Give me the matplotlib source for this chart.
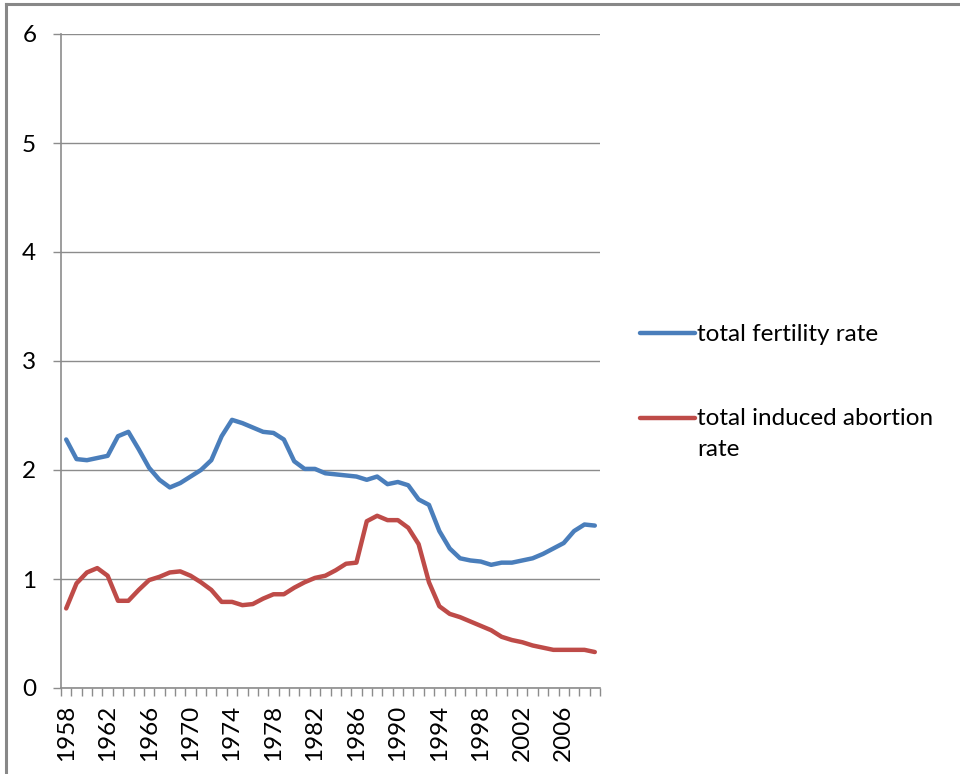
import numpy as np
import matplotlib
matplotlib.use("Agg")
import matplotlib.pyplot as plt
from matplotlib.lines import Line2D
from matplotlib.legend_handler import HandlerLine2D

plt.rcParams["font.family"] = ["Lato", "DejaVu Sans"]

# Annual series, 1958-2009
years = list(range(1958, 2010))
fertility = [2.28, 2.10, 2.09, 2.11, 2.13, 2.31, 2.35, 2.19, 2.02, 1.91,
             1.84, 1.88, 1.94, 2.00, 2.09, 2.31, 2.46, 2.43, 2.39, 2.35,
             2.34, 2.28, 2.08, 2.01, 2.01, 1.97, 1.96, 1.95, 1.94, 1.91,
             1.94, 1.87, 1.89, 1.86, 1.73, 1.68, 1.44, 1.28, 1.19, 1.17,
             1.16, 1.13, 1.15, 1.15, 1.17, 1.19, 1.23, 1.28, 1.33, 1.44,
             1.50, 1.49]
abortion = [0.73, 0.96, 1.06, 1.10, 1.03, 0.80, 0.80, 0.90, 0.99, 1.02,
            1.06, 1.07, 1.03, 0.97, 0.90, 0.79, 0.79, 0.76, 0.77, 0.82,
            0.86, 0.86, 0.92, 0.97, 1.01, 1.03, 1.08, 1.14, 1.15, 1.53,
            1.58, 1.54, 1.54, 1.47, 1.32, 0.97, 0.75, 0.68, 0.65, 0.61,
            0.57, 0.53, 0.47, 0.44, 0.42, 0.39, 0.37, 0.35, 0.35, 0.35,
            0.35, 0.33]
labels = ["total fertility rate", "total induced abortion\nrate"]
year_labels = list(range(1958, 2007, 4))
y_ticks = [0, 1, 2, 3, 4, 5, 6]

BLUE = "#4A7EBB"
RED = "#BE4B48"
GRID = "#8c8c8c"
FS = 17.5

W, H = 960, 774
fig = plt.figure(figsize=(W / 100, H / 100), dpi=100)
ax = fig.add_axes([61 / W, 1 - 688 / H, (600 - 61) / W, (688 - 34) / H])

lw = 3.2
l1, = ax.plot(years, fertility, color=BLUE, lw=lw,
              solid_joinstyle="round", solid_capstyle="round")
l2, = ax.plot(years, abortion, color=RED, lw=lw,
              solid_joinstyle="round", solid_capstyle="round")

ax.set_xlim(years[0] - 0.5, years[-1] + 0.5)
ax.set_ylim(0, 6)

# horizontal gridlines and axes styling
ax.set_yticks(y_ticks)
ax.yaxis.grid(True, color=GRID, lw=1.0)
ax.set_axisbelow(True)
for s in ("top", "right"):
    ax.spines[s].set_visible(False)
for s in ("left", "bottom"):
    ax.spines[s].set_color(GRID)
    ax.spines[s].set_linewidth(1.2)
ax.tick_params(axis="y", direction="out", length=5.8, width=1.0,
               color=GRID, pad=12, labelsize=FS)

# category boundaries as tick marks, year labels between them
ax.set_xticks(np.arange(years[0] - 0.5, years[-1] + 1.0, 1.0))
ax.set_xticklabels([])
ax.set_xticks(year_labels, minor=True)
ax.set_xticklabels([str(y) for y in year_labels], minor=True, rotation=90,
                   va="top", ha="center")
ax.tick_params(axis="x", which="major", direction="out", length=5.8,
               width=1.0, color=GRID)
ax.tick_params(axis="x", which="minor", length=0, pad=12, labelsize=FS)


class FirstLineHandler(HandlerLine2D):
    """Legend line aligned with the first line of a wrapped label."""

    def __init__(self, lift=0.0, **kw):
        super().__init__(**kw)
        self.lift = lift

    def create_artists(self, legend, orig_handle, xdescent, ydescent,
                       width, height, fontsize, trans):
        arts = super().create_artists(legend, orig_handle, xdescent,
                                      ydescent, width, height, fontsize,
                                      trans)
        for a in arts:
            if isinstance(a, Line2D):
                a.set_ydata(np.asarray(a.get_ydata(), float) + self.lift)
        return arts


leg = fig.legend([l1, l2], labels, loc="upper left",
                 bbox_to_anchor=(640 / W, 1 - 324 / H),
                 frameon=False, fontsize=FS, borderpad=0, borderaxespad=0,
                 handlelength=55 / (FS * 100 / 72), handletextpad=0.08,
                 labelspacing=2.58,
                 handler_map={l2: FirstLineHandler(lift=11.5)})
leg.get_texts()[1].set_linespacing(1.61)

# outer frame (left and top edges)
fig.add_artist(Line2D([6 / W, 6 / W], [0, 1 - 4 / H], transform=fig.transFigure,
                      color="#888888", lw=2.2))
fig.add_artist(Line2D([6 / W, 1], [1 - 4 / H, 1 - 4 / H],
                      transform=fig.transFigure, color="#888888", lw=2.2))

fig.savefig("out.png", dpi=100)
